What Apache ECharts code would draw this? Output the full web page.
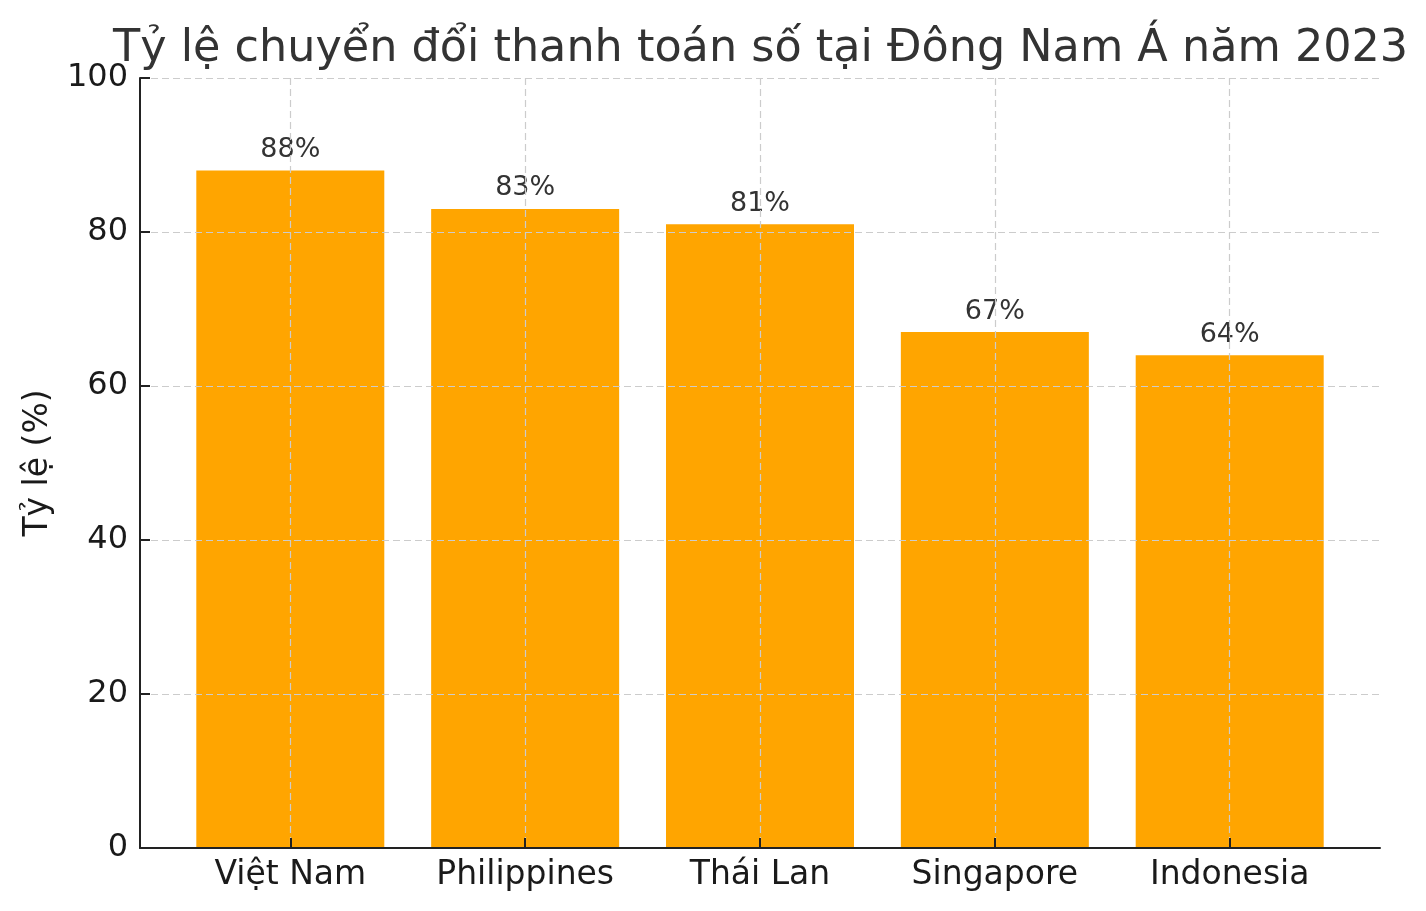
<!DOCTYPE html>
<html>
<head>
<meta charset="utf-8">
<script src="https://cdn.jsdelivr.net/npm/echarts@6/dist/echarts.min.js"></script>
<style>
  html, body { margin: 0; padding: 0; background: #fff; }
  #chart { width: 1426px; height: 911px; }
</style>
</head>
<body>
<div id="chart"></div>
<script>
var countries = ['Việt Nam', 'Philippines', 'Thái Lan', 'Singapore', 'Indonesia'];
var rates = [88, 83, 81, 67, 64];
var yTicks = [0, 20, 40, 60, 80, 100];

var positions = countries.map(function (c, i) { return i; });
var barData = rates.map(function (v, i) { return [positions[i], v]; });

var chart = echarts.init(document.getElementById('chart'));
var font = 'DejaVu Sans';

var option = {
    animation: false,
    backgroundColor: '#fff',
    title: {
        text: 'Tỷ lệ chuyển đổi thanh toán số tại Đông Nam Á năm 2023',
        left: 108,
        top: 22,
        textStyle: { fontFamily: font, fontSize: 44.5, fontWeight: 'normal', color: '#333' }
    },
    grid: { left: 140, right: 46, top: 78, bottom: 63 },
    xAxis: {
        type: 'value',
        min: -0.64,
        max: 4.64,
        z: 3,
        axisLine: { onZero: false, lineStyle: { color: '#222', width: 2 } },
        axisTick: { customValues: positions, inside: true, length: 10, lineStyle: { color: '#222', width: 2 } },
        axisLabel: {
            customValues: positions,
            formatter: function (v) { return countries[Math.round(v)]; },
            fontFamily: font, fontSize: 33, color: '#1a1a1a', margin: 11
        },
        splitLine: { show: true, lineStyle: { color: '#ccc', type: [7, 4], width: 1.2 } }
    },
    yAxis: {
        type: 'value',
        min: 0,
        max: 100,
        interval: 20,
        z: 3,
        name: 'Tỷ lệ (%)',
        nameLocation: 'middle',
        nameGap: 85,
        nameTextStyle: { fontFamily: font, fontSize: 33, color: '#1a1a1a' },
        axisLine: { show: true, onZero: false, lineStyle: { color: '#222', width: 2 } },
        axisTick: { show: true, inside: true, length: 10, lineStyle: { color: '#222', width: 2 } },
        axisLabel: {
            formatter: function (v) { return yTicks.indexOf(v) >= 0 ? String(v) : ''; },
            fontFamily: font, fontSize: 32, color: '#1a1a1a', margin: 12
        },
        splitLine: { show: true, lineStyle: { color: '#ccc', type: [7, 4], width: 1.2 } }
    },
    series: [{
        type: 'bar',
        data: barData,
        barWidth: 188,
        itemStyle: { color: '#FFA500' },
        label: {
            show: true,
            position: 'top',
            distance: 7,
            formatter: function (p) { return p.value[1] + '%'; },
            fontFamily: font,
            fontSize: 27,
            color: '#333'
        }
    }]
};

chart.setOption(option);
</script>
</body>
</html>
